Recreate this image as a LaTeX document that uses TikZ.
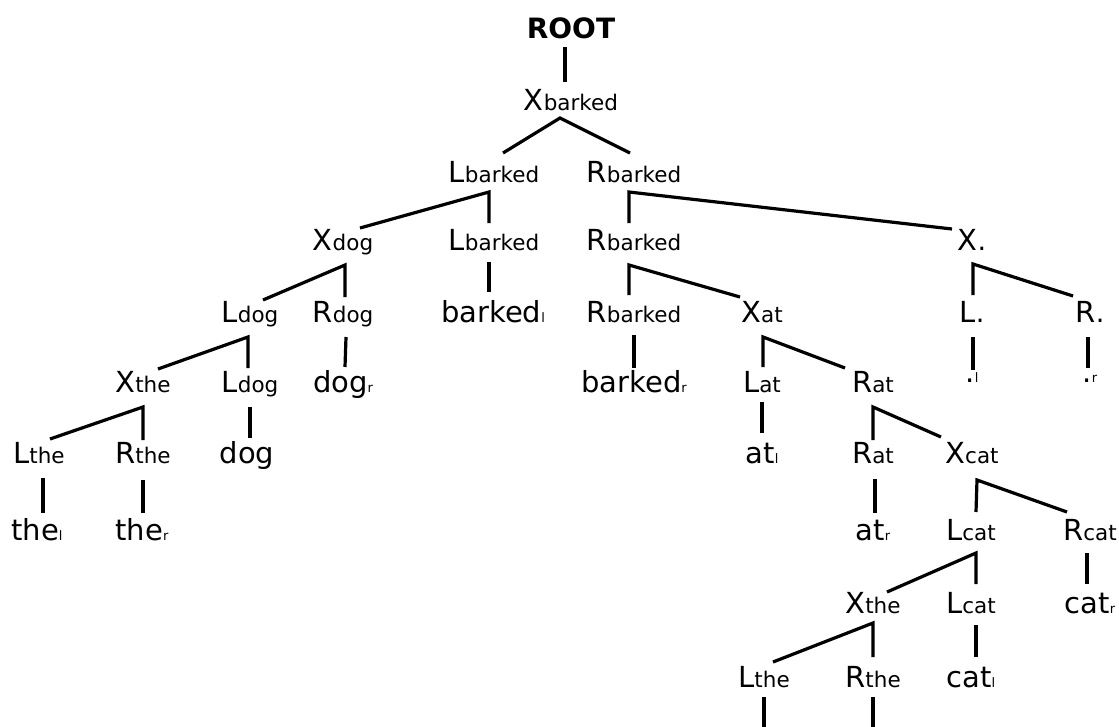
\documentclass[tikz,border=0pt]{standalone}
\usepackage{fontspec}
\setmainfont{DejaVu Sans}
\newcommand\nt[2]{{\fontsize{29}{29}\selectfont #1}{\fontsize{21.5}{21.5}\selectfont #2}}
\newcommand\lf[2]{{\fontsize{29}{29}\selectfont #1}{\fontsize{13}{13}\selectfont #2}}
% unary edge: parent, apex shift, child, end shift
\newcommand\tuni[4]{\draw[edge] ([shift={(#2)}]#1.base) -- ([shift={(#4)}]#3.base);}
% binary branch: parent, apex shift, left child, shift, right child, shift
\newcommand\tbin[6]{\draw[edge] ([shift={(#4)}]#3.base) -- ([shift={(#2)}]#1.base) -- ([shift={(#6)}]#5.base);}
\begin{document}
\begin{tikzpicture}[x=1pt,y=-1pt,
  tn/.style={anchor=base, inner sep=0pt},
  edge/.style={line width=3.2pt, line join=miter}]
\useasboundingbox (0,0) rectangle (1119,726);
% nodes
\node[tn,font=\fontsize{28}{28}\selectfont\bfseries] (root) at (571,38) {ROOT};
\node[tn] (xb) at (571,110) {\nt{X}{barked}};
\node[tn] (lb) at (494,182) {\nt{L}{barked}};
\node[tn] (rb) at (634,182) {\nt{R}{barked}};
\node[tn] (xdog) at (343,250) {\nt{X}{dog}};
\node[tn] (lb2) at (494,250) {\nt{L}{barked}};
\node[tn] (rb2) at (634,250) {\nt{R}{barked}};
\node[tn] (xdot) at (972,250) {\nt{X}{\fontsize{27}{27}\selectfont .}};
\node[tn] (ldog) at (250,322) {\nt{L}{dog}};
\node[tn] (rdog) at (343,322) {\nt{R}{dog}};
\node[tn] (barkedl) at (493,322) {\lf{barked}{l}};
\node[tn] (rb3) at (634,322) {\nt{R}{barked}};
\node[tn] (xat) at (762,322) {\nt{X}{at}};
\node[tn] (ldot) at (972,322) {\nt{L}{\fontsize{27}{27}\selectfont .}};
\node[tn] (rdot) at (1090,322) {\nt{R}{\fontsize{27}{27}\selectfont .}};
\node[tn] (xthe) at (143,392) {\nt{X}{the}};
\node[tn] (ldog2) at (250,392) {\nt{L}{dog}};
\node[tn] (dogr) at (343,392) {\lf{dog}{r}};
\node[tn] (barkedr) at (634,392) {\lf{barked}{r}};
\node[tn] (lat) at (762,392) {\nt{L}{at}};
\node[tn] (rat) at (873,392) {\nt{R}{at}};
\node[tn] (dotl) at (972,382) {\lf{.}{l}};
\node[tn] (dotr) at (1090,382) {\lf{.}{r}};
\node[tn] (lthe) at (39,463) {\nt{L}{the}};
\node[tn] (rthe) at (143,463) {\nt{R}{the}};
\node[tn] (dog) at (247,463) {\fontsize{29}{29}\selectfont dog};
\node[tn] (atl) at (762,463) {\lf{at}{l}};
\node[tn] (rat2) at (873,463) {\nt{R}{at}};
\node[tn] (xcat) at (972,463) {\nt{X}{cat}};
\node[tn] (thel) at (37,540) {\lf{the}{l}};
\node[tn] (ther) at (142,540) {\lf{the}{r}};
\node[tn] (atr) at (873,540) {\lf{at}{r}};
\node[tn] (lcat) at (971,540) {\nt{L}{cat}};
\node[tn] (rcat) at (1090,540) {\nt{R}{cat}};
\node[tn] (xthe2) at (873,613) {\nt{X}{the}};
\node[tn] (lcat2) at (971,613) {\nt{L}{cat}};
\node[tn] (catr) at (1090,613) {\lf{cat}{r}};
\node[tn] (lthe2) at (764,687) {\nt{L}{the}};
\node[tn] (rthe2) at (873,687) {\nt{R}{the}};
\node[tn] (catl) at (971,687) {\lf{cat}{l}};
\coordinate (e1) at (764,727);
\coordinate (e2) at (873,727);
% edges
\tuni{root}{-6,9}{xb}{-6,-28}
\tbin{xb}{-11,8}{lb}{9,-29}{rb}{-4,-29}
\tbin{lb}{-5,10}{xdog}{17,-22}{lb2}{-5,-27}
\tbin{rb}{-5,10}{rb2}{-5,-27}{xdot}{-20,-21}
\tbin{xdog}{2,15}{ldog}{13,-22}{rdog}{2,-25}
\tuni{lb2}{-5,12}{barkedl}{-4,-30}
\tbin{rb2}{-5,15}{rb3}{-5,-27}{xat}{-22,-25}
\tbin{xdot}{1,14}{ldot}{1,-27}{rdot}{-17,-26}
\tbin{ldog}{-2,15}{xthe}{15,-23}{ldog2}{-2,-24}
\tuni{rdog}{3,15}{dogr}{2,-25}
\tuni{rb3}{0,13}{barkedr}{0,-24}
\tbin{xat}{1,15}{lat}{1,-25}{rat}{-28,-24}
\tuni{ldot}{1,15}{dotl}{1,-12}
\tuni{rdot}{-2,15}{dotr}{-2,-14}
\tbin{xthe}{0,15}{lthe}{11,-24}{rthe}{0,-23}
\tuni{ldog2}{0,15}{dog}{3,-25}
\tuni{lat}{0,10}{atl}{0,-30}
\tbin{rat}{0,15}{rat2}{0,-23}{xcat}{-31,-26}
\tuni{lthe}{4,15}{thel}{6,-27}
\tuni{rthe}{0,17}{ther}{1,-27}
\tuni{rat2}{2,16}{atr}{2,-27}
\tbin{xcat}{5,17}{lcat}{5,-28}{rcat}{-23,-28}
\tbin{lcat}{5,13}{xthe2}{14,-21}{lcat2}{5,-29}
\tuni{rcat}{-3,13}{catr}{-3,-29}
\tbin{xthe2}{0,10}{lthe2}{9,-25}{rthe2}{0,-30}
\tuni{lcat2}{5,12}{catl}{5,-30}
\draw[edge] ([yshift=-10pt]lthe2.base) -- (e1);
\draw[edge] ([yshift=-10pt]rthe2.base) -- (e2);
\end{tikzpicture}
\end{document}
